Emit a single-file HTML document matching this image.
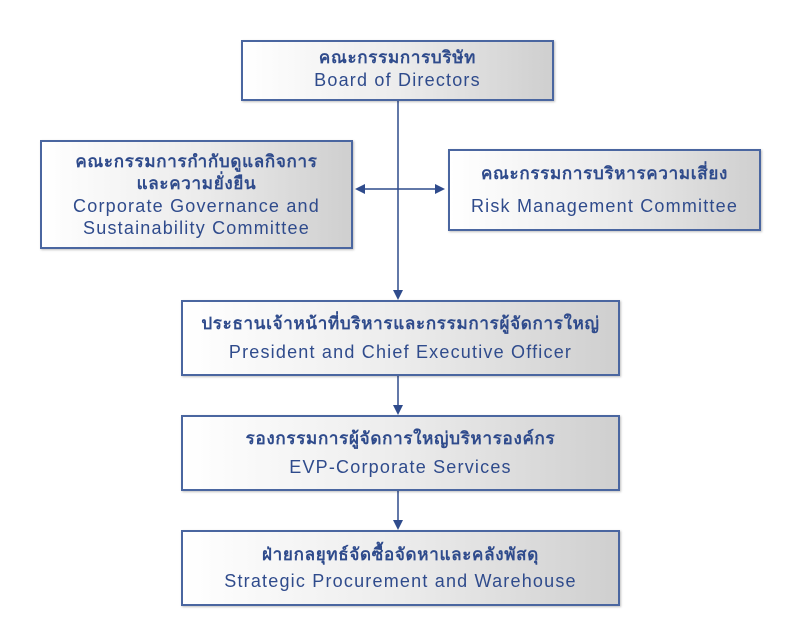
<!DOCTYPE html>
<html><head><meta charset="utf-8"><style>
body{margin:0;width:800px;height:640px;background:#fff;position:relative;font-family:"Liberation Sans","DejaVu Sans",sans-serif;color:#2f4b8c;overflow:hidden}
.b{position:absolute;box-sizing:border-box;border:2px solid #4a66a0;background:linear-gradient(90deg,#fff 0%,#ececec 50%,#cfcfcf 100%);box-shadow:1px 1px 2px rgba(0,0,0,.25);text-align:center;display:flex;flex-direction:column;justify-content:center}
.t{font-weight:bold;font-size:17px;line-height:22px;letter-spacing:0.7px}
.e{font-size:18px;line-height:22px;letter-spacing:1.2px}
</style></head><body>
<svg width="800" height="640" style="position:absolute;left:0;top:0">
<g stroke="#2f4b8c" stroke-width="1.5" fill="none">
<line x1="398" y1="100" x2="398" y2="292"/>
<line x1="363" y1="189" x2="437" y2="189"/>
<line x1="398" y1="375" x2="398" y2="407"/>
<line x1="398" y1="490" x2="398" y2="522"/>
</g>
<g fill="#2f4b8c">
<polygon points="393,290 403,290 398,300"/>
<polygon points="355,189 365,184 365,194"/>
<polygon points="445,189 435,184 435,194"/>
<polygon points="393,405 403,405 398,415"/>
<polygon points="393,520 403,520 398,530"/>
</g>
</svg>
<div class="b" style="left:241px;top:40px;width:313px;height:61px;padding-bottom:3px"><div class="t">คณะกรรมการบริษัท</div><div class="e">Board of Directors</div></div>
<div class="b" style="left:40px;top:140px;width:313px;height:109px"><div class="t">คณะกรรมการกำกับดูแลกิจการ<br>และความยั่งยืน</div><div class="e">Corporate Governance and<br>Sustainability Committee</div></div>
<div class="b" style="left:448px;top:149px;width:313px;height:82px"><div class="t" style="margin-bottom:10px">คณะกรรมการบริหารความเสี่ยง</div><div class="e">Risk Management Committee</div></div>
<div class="b" style="left:181px;top:300px;width:439px;height:76px"><div class="t" style="margin-bottom:6px">ประธานเจ้าหน้าที่บริหารและกรรมการผู้จัดการใหญ่</div><div class="e">President and Chief Executive Officer</div></div>
<div class="b" style="left:181px;top:415px;width:439px;height:76px"><div class="t" style="margin-bottom:6px">รองกรรมการผู้จัดการใหญ่บริหารองค์กร</div><div class="e">EVP-Corporate Services</div></div>
<div class="b" style="left:181px;top:530px;width:439px;height:76px"><div class="t" style="margin-bottom:4px">ฝ่ายกลยุทธ์จัดซื้อจัดหาและคลังพัสดุ</div><div class="e">Strategic Procurement and Warehouse</div></div>
</body></html>
